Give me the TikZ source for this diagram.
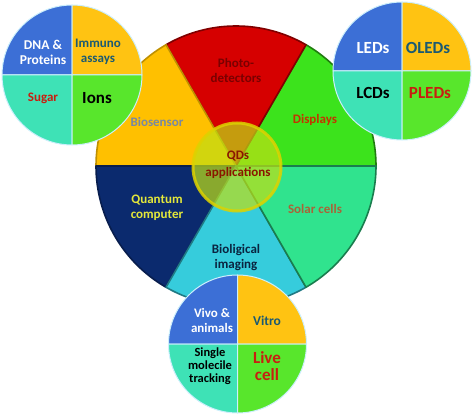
\documentclass[tikz,border=0pt]{standalone}
\usepackage{fontspec}
\setmainfont{Carlito}

\definecolor{pieRed}{HTML}{D60000}
\definecolor{pieYellow}{HTML}{FFC000}
\definecolor{pieGreen}{HTML}{3CE31C}
\definecolor{pieNavy}{HTML}{0B2A6E}
\definecolor{pieCyan}{HTML}{36CCDC}
\definecolor{pieTeal}{HTML}{30E38E}
\definecolor{smallBlue}{HTML}{3C6FD6}
\definecolor{smallYellow}{HTML}{FFC312}
\definecolor{smallTeal}{HTML}{3EE2B6}
\definecolor{smallGreen}{HTML}{58E62C}
\definecolor{txtRed}{HTML}{7A0000}
\definecolor{txtGray}{HTML}{7888A2}
\definecolor{txtOrange}{HTML}{C43400}
\definecolor{txtYellow}{HTML}{E4E83A}
\definecolor{txtNavy}{HTML}{0A2440}
\definecolor{txtBrown}{HTML}{A86438}
\definecolor{txtTeal}{HTML}{1B5A72}
\definecolor{txtScarlet}{HTML}{C81E10}
\definecolor{txtCore}{HTML}{8A1600}

\begin{document}
\begin{tikzpicture}[x = 1pt, y = 1pt,
    every node/.style = {font = \bfseries\fontsize{13}{15}\selectfont, align = center, inner sep = 1pt},
    wedge/.style = {line width = 1.6pt, line join = round},
    quad/.style = {draw = white!80!cyan, line width = 1pt, line join = round},
    big/.style = {font = \bfseries\fontsize{17}{18}\selectfont},
    mid/.style = {font = \bfseries\fontsize{13.5}{15}\selectfont}]
  \useasboundingbox (0, 0) rectangle (474, 418);

  \coordinate (O) at (236, 252);
  \coordinate (TL) at (72, 343);
  \coordinate (TR) at (402, 347);
  \coordinate (BC) at (237.5, 74);

  % main pie
  \draw[wedge, fill = pieGreen, draw = pieGreen!55!black] (O) -- +(0:140) arc (0:60:140) -- cycle;
  \draw[wedge, fill = pieRed, draw = pieRed!60!black] (O) -- +(60:140) arc (60:120:140) -- cycle;
  \draw[wedge, fill = pieYellow, draw = pieYellow!75!black] (O) -- +(120:140) arc (120:180:140) -- cycle;
  \draw[wedge, fill = pieNavy, draw = pieNavy!70!black] (O) -- +(180:140) arc (180:240:140) -- cycle;
  \draw[wedge, fill = pieCyan, draw = pieCyan!60!black] (O) -- +(240:140) arc (240:300:140) -- cycle;
  \draw[wedge, fill = pieTeal, draw = pieTeal!55!black] (O) -- +(300:140) arc (300:360:140) -- cycle;

  \node[text = txtRed] (photo) at (236, 348) {Photo-\\detectors};
  \node[text = txtGray] (biosensor) at (157, 296) {Biosensor};
  \node[text = txtOrange] (displays) at (315, 298) {Displays};
  \node[text = txtYellow] (quantum) at (157, 210) {Quantum\\computer};
  \node[text = txtBrown] (solar) at (315, 209) {Solar cells};
  \node[text = txtNavy] (imaging) at (236, 160) {Bioligical\\imaging};

  % centre
  \draw[fill = yellow!75!green, fill opacity = 0.7, draw = yellow!70!olive, draw opacity = 0.85, line width = 3pt]
    (237, 251) circle (44);
  \node[text = txtCore, font = \bfseries\fontsize{13}{17}\selectfont] (qds) at (238, 253) {QDs\\applications};

  % top left: biosensor
  \begin{scope}[every path/.style = {quad}]
    \draw[fill = smallBlue] (TL) -- +(90:70) arc (90:180:70) -- cycle;
    \draw[fill = smallYellow] (TL) -- +(0:70) arc (0:90:70) -- cycle;
    \draw[fill = smallTeal] (TL) -- +(180:70) arc (180:270:70) -- cycle;
    \draw[fill = smallGreen] (TL) -- +(270:70) arc (270:360:70) -- cycle;
  \end{scope}
  \node[mid, text = white] (dna) at (43, 366) {DNA \&\\Proteins};
  \node[text = txtTeal] (immuno) at (98, 366) {Immuno\\assays};
  \node[text = txtScarlet] (sugar) at (43, 320) {Sugar};
  \node[big, text = black] (ions) at (97, 320) {Ions};

  % top right: displays
  \begin{scope}[every path/.style = {quad}]
    \draw[fill = smallBlue] (TR) -- +(90:69) arc (90:180:69) -- cycle;
    \draw[fill = smallYellow] (TR) -- +(0:69) arc (0:90:69) -- cycle;
    \draw[fill = smallTeal] (TR) -- +(180:69) arc (180:270:69) -- cycle;
    \draw[fill = smallGreen] (TR) -- +(270:69) arc (270:360:69) -- cycle;
  \end{scope}
  \node[big, text = white] (leds) at (373, 370) {LEDs};
  \node[big, text = txtTeal] (oleds) at (428, 370) {OLEDs};
  \node[big, text = black] (lcds) at (373, 325) {LCDs};
  \node[big, text = txtScarlet] (pleds) at (430, 325) {PLEDs};

  % bottom: imaging
  \begin{scope}[every path/.style = {quad}]
    \draw[fill = smallBlue] (BC) -- +(90:69) arc (90:180:69) -- cycle;
    \draw[fill = smallYellow] (BC) -- +(0:69) arc (0:90:69) -- cycle;
    \draw[fill = smallTeal] (BC) -- +(180:69) arc (180:270:69) -- cycle;
    \draw[fill = smallGreen] (BC) -- +(270:69) arc (270:360:69) -- cycle;
  \end{scope}
  \node[text = white] (vivo) at (212, 98) {Vivo \&\\animals};
  \node[mid, text = txtTeal] (vitro) at (267, 97) {Vitro};
  \node[text = black, font = \bfseries\fontsize{12.5}{13}\selectfont] (single) at (210, 52) {Single\\molecile\\tracking};
  \node[text = txtScarlet, font = \bfseries\fontsize{17}{17}\selectfont] (live) at (267, 52) {Live\\cell};
\end{tikzpicture}
\end{document}
